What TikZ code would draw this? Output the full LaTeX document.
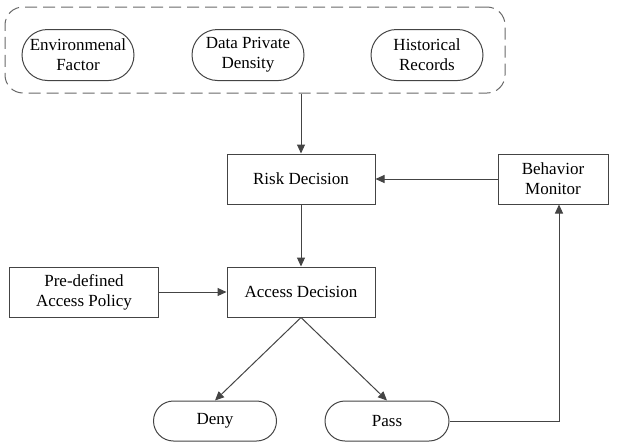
\documentclass[tikz,border=0pt]{standalone}
\usepackage{fontspec}
\setmainfont{Liberation Serif}
\usetikzlibrary{arrows.meta,shapes.misc}
\definecolor{ln}{HTML}{444444}
\begin{document}
\begin{tikzpicture}[x=1pt,y=-1pt,
  font=\fontsize{17}{20}\selectfont,
  box/.style={draw=ln,line width=1pt,rectangle,inner sep=0pt,align=center},
  pill/.style={draw=ln,line width=1pt,rounded rectangle,rounded rectangle arc length=180,inner sep=0pt,align=center},
  arr/.style={draw=ln,line width=1pt,-{Triangle[length=9pt,width=8pt]}},
  con/.style={draw=ln,line width=1pt}]
\useasboundingbox (0,0) rectangle (618,445);
\node[draw=ln!80,line width=1pt,dash pattern=on 12pt off 6pt,rounded corners=18pt,minimum width=500pt,minimum height=86pt] (grp) at (255,50) {};
\node[pill,minimum width=112pt,minimum height=51pt] (env) at (78,55) {Environmenal\\Factor};
\node[pill,minimum width=112pt,minimum height=51pt] (dpd) at (248,55) {Data Private\\Density};
\node[pill,minimum width=112pt,minimum height=51pt] (hr) at (427,55) {Historical\\Records};
\node[box,minimum width=148pt,minimum height=50pt] (rd) at (301,179) {Risk Decision};
\node[box,minimum width=110pt,minimum height=50pt] (bm) at (553,179) {Behavior\\Monitor};
\node[box,minimum width=148pt,minimum height=50pt] (ad) at (301,292) {Access Decision};
\node[box,minimum width=149pt,minimum height=50pt] (pap) at (84,292) {Pre-defined\\Access Policy};
\node[pill,minimum width=123pt,minimum height=40pt] (deny) at (215,421) {Deny};
\node[pill,minimum width=124pt,minimum height=40pt] (pass) at (387,421) {Pass};
\draw[arr] (grp.south -| rd.north) -- (rd.north);
\draw[arr] (bm.west) -- (rd.east);
\draw[arr] (rd.south) -- (ad.north);
\draw[arr] (pap.east) -- (ad.west);
\draw[arr] (ad.south) -- (deny.north);
\draw[arr] (ad.south) -- (pass.north);
\coordinate (corner) at (559,421);
\draw[arr] (pass.east) -- (corner) -- (corner |- bm.south);
\end{tikzpicture}
\end{document}
